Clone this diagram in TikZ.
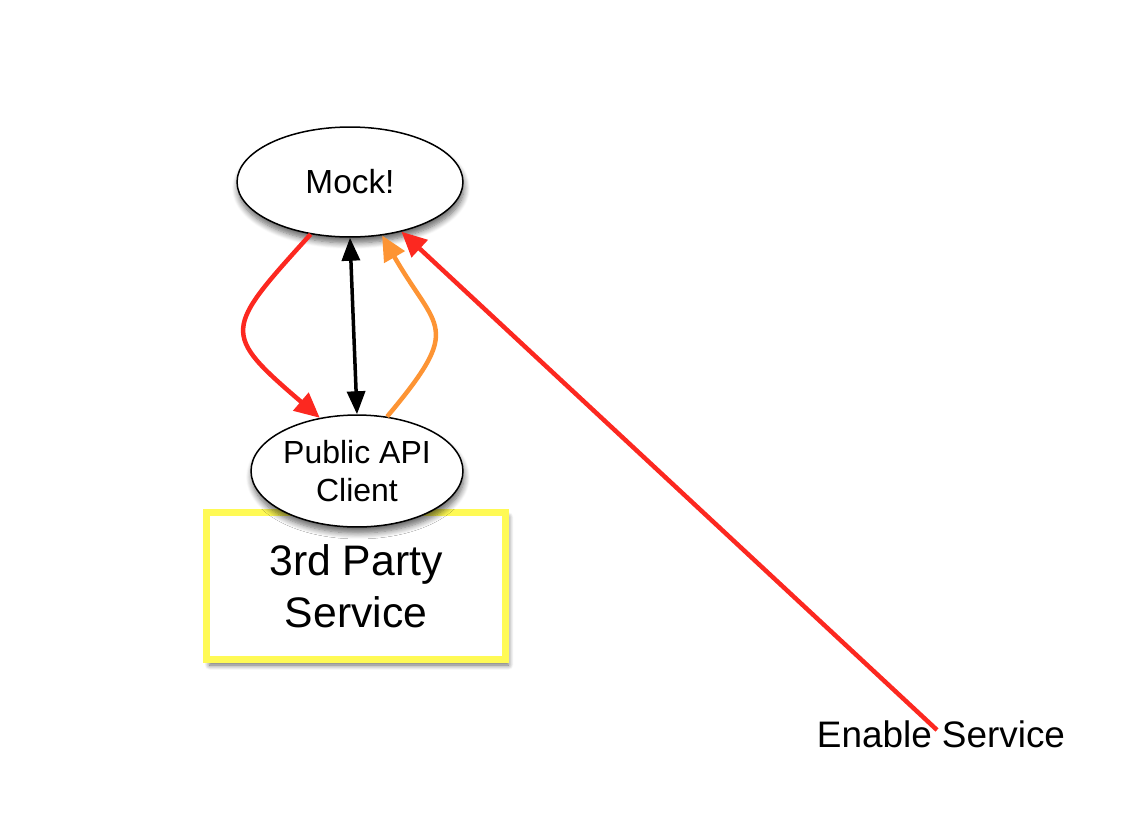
\documentclass[tikz,border=0pt]{standalone}
\usepackage{fontspec}
\setmainfont{Liberation Sans}
\usetikzlibrary{arrows.meta,shapes,shadows.blur}
\definecolor{callred}{RGB}{252,40,32}
\definecolor{replyorange}{RGB}{253,148,52}
\definecolor{svcyellow}{RGB}{255,250,85}

\tikzset{
  bubble/.style={ellipse,draw,line width=0.03cm,fill=white,inner sep=0pt,align=center,
    blur shadow={shadow xshift=0.02cm,shadow yshift=-0.12cm,shadow blur steps=8,shadow blur radius=0.12cm,shadow opacity=60}},
  tip/.style={-{Triangle[length=0.5cm,width=0.46cm]}},
  bothtips/.style={{Triangle[length=0.46cm,width=0.36cm]}-{Triangle[length=0.46cm,width=0.36cm]}}
}

\begin{document}
\begin{tikzpicture} [x=0.02cm,y=-0.02cm,line width=0.09cm]
  \useasboundingbox (0,0) rectangle (1134,829);

  \node (svc) [draw=svcyellow,line width=0.14cm,fill=white,minimum width=5.98cm,minimum height=2.96cm,align=center,
    font=\fontsize{24.3}{29.5}\selectfont,
    blur shadow={shadow xshift=0.06cm,shadow yshift=-0.1cm,shadow blur steps=8,shadow blur radius=0.1cm,shadow opacity=60}] at (356,586) {3rd Party\\Service};
  \node[bubble] (api) [minimum width=4.24cm,minimum height=2.24cm,font=\fontsize{18.2}{22}\selectfont] at (357,471) {Public API\\Client};
  \node[bubble] (mock) [minimum width=4.52cm,minimum height=2.2cm,font=\fontsize{19}{22}\selectfont] at (350,182) {Mock!};
  \node (enable) [anchor=base,inner sep=0pt,font=\fontsize{21}{24}\selectfont] at (941,747) {Enable Service};
  \coordinate (enableend) at (937,730);

  % calls and replies
  \draw[callred,tip] (mock.233) .. controls +(-87,96) and +(-99,-85) .. (api.125);
  \draw[replyorange,tip] (api.61) .. controls +(77,-92) and +(55,96) .. (mock.301);
  \path[black,line width=0.07cm,bothtips] (mock.south) edge (api.north);
  \path[callred,tip] (enableend) edge (mock.316);

\end{tikzpicture}
\end{document}
